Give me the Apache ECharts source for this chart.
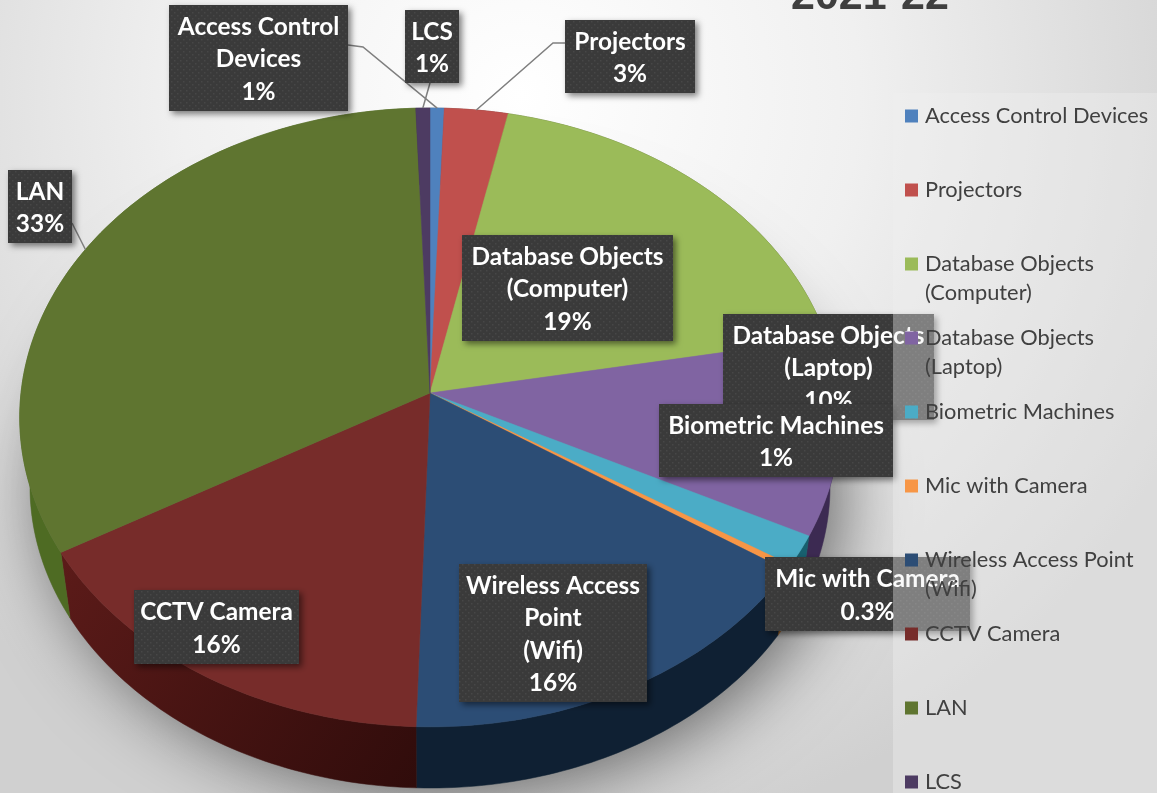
<!DOCTYPE html>
<html>
<head>
<meta charset="utf-8">
<style>
  html, body { margin: 0; padding: 0; background: #fff; }
  #chart { width: 1157px; height: 793px; }
</style>
<script src="https://cdn.jsdelivr.net/npm/echarts@6/dist/echarts.min.js"></script>
</head>
<body>
<div id="chart"></div>
<script>
// Data, clockwise from the top of the pie
const categories = ['Access Control Devices', 'Projectors', 'Database Objects\n(Computer)', 'Database Objects\n(Laptop)',
  'Biometric Machines', 'Mic with Camera', 'Wireless Access Point\n(Wifi)', 'CCTV Camera', 'LAN', 'LCS'];
const values = [0.6, 2.7, 18.8, 10.3, 1.6, 0.3, 16.2, 16.2, 32.7, 0.6];
const percentLabels = ['1%', '3%', '19%', '10%', '1%', '0.3%', '16%', '16%', '33%', '1%'];
const labelNames = ['Access Control\nDevices', 'Projectors', 'Database Objects\n(Computer)', 'Database Objects\n(Laptop)',
  'Biometric Machines', 'Mic with Camera', 'Wireless Access\nPoint\n(Wifi)', 'CCTV Camera', 'LAN', 'LCS'];

const topColors = ['#4f81bd', '#c0504d', '#9bbb59', '#8064a2', '#4bacc6', '#f79646', '#2c4d75', '#772c2a', '#5f7530', '#4d3b62'];
const wallColors = ['#2f4d71', '#73302e', '#5d7035', '#3c2a52', '#17606f', '#94591f', '#0f2033', '#4a1513', '#4e6b23', '#2e233b'];

// label boxes: slice index, x, y, w, h, leader line (elbow points, ends on the rim)
const labelBoxes = [
  { i: 0, x: 169, y: 5, w: 179, h: 106, leader: [[348, 45], [363, 47]] },
  { i: 9, x: 405, y: 10, w: 54, h: 73, leader: [[430, 83]] },
  { i: 1, x: 565, y: 20, w: 130, h: 73, leader: [[565, 43], [553, 43]] },
  { i: 8, x: 8, y: 170, w: 64, h: 73, leader: [[72, 223]] },
  { i: 2, x: 462, y: 235, w: 211, h: 106 },
  { i: 3, x: 723, y: 314, w: 211, h: 106 },
  { i: 4, x: 659, y: 404, w: 234, h: 73 },
  { i: 7, x: 134, y: 590, w: 165, h: 74 },
  { i: 6, x: 459, y: 564, w: 188, h: 138 },
  { i: 5, x: 765, y: 557, w: 205, h: 74 }
];

// pie geometry: a circle seen in perspective
const apex = [430, 393];
const rx = 409, ry = 307.5, persp = 0.079;
const wallScale = 0.975, wallDrop = 69.5;
const labelFont = 'bold 24.4px Lato';

const starts = [];
values.reduce((sum, v, i) => { starts[i] = sum; return sum + v; }, 0);
const total = values.reduce((a, b) => a + b, 0);

function rim(pct, scale, drop) {
  const t = pct / total * 2 * Math.PI;
  const d = 1 + persp * Math.cos(t);
  return [
    apex[0] + scale * rx * Math.sin(t) / d,
    apex[1] + drop - scale * ry * Math.cos(t) / d
  ];
}

function arc(from, to, scale, drop) {
  const n = Math.max(2, Math.ceil((to - from) * 3.6));
  const pts = [];
  for (let k = 0; k <= n; k++) pts.push(rim(from + (to - from) * k / n, scale, drop));
  return pts;
}

// dotted texture of the label boxes
const tex = document.createElement('canvas');
tex.width = 6; tex.height = 6;
const ctx = tex.getContext('2d');
ctx.fillStyle = '#3a3a3a';
ctx.fillRect(0, 0, 6, 6);
ctx.fillStyle = '#474747';
ctx.fillRect(0, 0, 1.5, 1.5);
ctx.fillRect(3, 3, 1.5, 1.5);

function renderSlice(i) {
  return function () {
    const from = starts[i], to = from + values[i];
    const topArc = arc(from, to, 1, 0);
    const botArc = arc(from, to, wallScale, wallDrop);
    const wallFill = i === 7
      ? new echarts.graphic.LinearGradient(0, 0, 1, 1, [{ offset: 0, color: '#5c1b19' }, { offset: 1, color: '#300c0b' }])
      : wallColors[i];
    return {
      type: 'group',
      children: [
        {
          type: 'polygon',
          z2: 1,
          shape: { points: topArc.concat(botArc.slice().reverse()) },
          style: { fill: wallFill, stroke: wallFill, lineWidth: 0.5 }
        },
        {
          type: 'polygon',
          z2: 2,
          shape: { points: [apex].concat(topArc) },
          style: { fill: topColors[i], stroke: topColors[i], lineWidth: 0.5 }
        }
      ]
    };
  };
}

function renderLabels() {
  const children = [];
  labelBoxes.forEach((b, n) => {
    const end = rim(starts[b.i] + values[b.i] / 2, 1, 0);
    if (b.leader) {
      children.push({
        type: 'polyline',
        z2: 10 + n * 3,
        shape: { points: b.leader.concat([end]) },
        style: { fill: null, stroke: '#7f7f7f', lineWidth: 1.5 }
      });
    }
    children.push({
      type: 'rect',
      z2: 11 + n * 3,
      shape: { x: b.x, y: b.y, width: b.w, height: b.h },
      style: {
        fill: { image: tex, repeat: 'repeat' },
        shadowBlur: 6, shadowOffsetX: 3, shadowOffsetY: 3, shadowColor: 'rgba(0,0,0,0.5)'
      }
    });
    children.push({
      type: 'text',
      z2: 12 + n * 3,
      style: {
        x: b.x + b.w / 2,
        y: b.y + b.h / 2 + 1.5,
        text: labelNames[b.i] + '\n' + percentLabels[b.i],
        align: 'center',
        verticalAlign: 'middle',
        font: labelFont,
        lineHeight: 32.5,
        fill: '#fff'
      }
    });
  });
  return { type: 'group', children: children };
}

const series = categories.map((name, i) => ({
  name: name,
  type: 'custom',
  coordinateSystem: 'none',
  silent: true,
  animation: false,
  z: 2,
  itemStyle: { color: topColors[i] },
  renderItem: renderSlice(i),
  data: [[values[i]]]
}));
series.push({
  name: 'labels',
  type: 'custom',
  coordinateSystem: 'none',
  silent: true,
  animation: false,
  z: 5,
  renderItem: renderLabels,
  data: [[0]]
});

// one legend per row: rows keep an even pitch whether the name has one line or two
const legends = categories.map((name, i) => {
  const twoLines = name.indexOf('\n') >= 0;
  return {
    z: 8,
    left: 905,
    top: 101.5 + 74 * i,
    padding: 0,
    orient: 'vertical',
    selectedMode: false,
    data: [name],
    itemWidth: 13,
    itemHeight: twoLines ? 42 : 13,
    itemGap: 7,
    icon: twoLines ? 'path://M0 0H13V13H0Z M13 42L13 42' : 'rect',
    textStyle: { fontFamily: 'Lato', fontSize: 21.8, color: '#404040', lineHeight: 29, padding: [0, 0, 0, 2] }
  };
});

const chart = echarts.init(document.getElementById('chart'));
chart.setOption({
  animation: false,
  backgroundColor: {
    type: 'radial', x: 0.45, y: 0.12, r: 0.95,
    colorStops: [
      { offset: 0, color: '#ffffff' },
      { offset: 0.45, color: '#f0f0f0' },
      { offset: 1, color: '#d0d0d0' }
    ]
  },
  title: {
    text: '2021-22',
    left: 791,
    top: -24,
    padding: 0,
    textStyle: { fontFamily: 'Liberation Sans', fontWeight: 'bold', fontSize: 43, color: '#3f3f3f' }
  },
  legend: legends,
  tooltip: { show: false },
  graphic: [
    {
      // soft shadow under the pie
      type: 'polygon',
      z: 0,
      silent: true,
      shape: { points: arc(0, total, wallScale, wallDrop) },
      style: { fill: '#8a8a8a', shadowBlur: 70, shadowColor: 'rgba(0,0,0,0.55)', shadowOffsetX: 12, shadowOffsetY: 6 }
    },
    {
      // legend panel, washes out the labels that run under it
      type: 'rect',
      z: 6,
      silent: true,
      shape: { x: 893, y: 93, width: 264, height: 700 },
      style: { fill: 'rgba(240,240,240,0.385)' }
    }
  ],
  series: series
});

window.addEventListener('resize', () => chart.resize());
</script>
</body>
</html>
